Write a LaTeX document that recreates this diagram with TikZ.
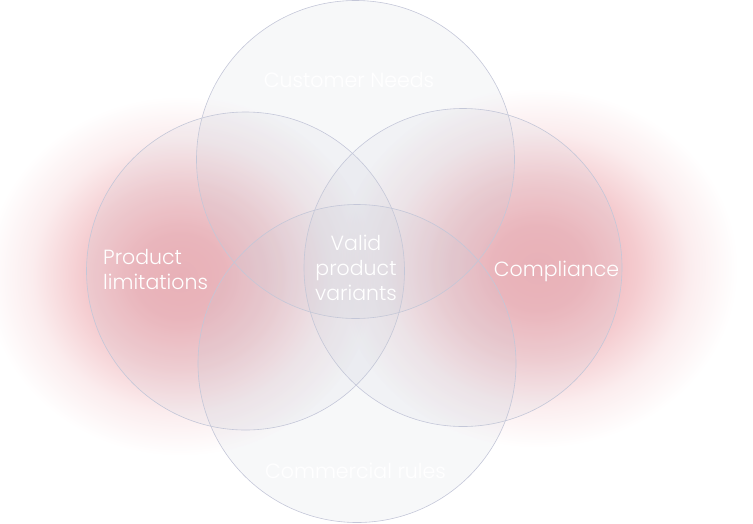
\documentclass[tikz,border=0pt]{standalone}
\usepackage{fontspec}
\newfontfamily\poppins{Poppins Light}
\usetikzlibrary{shapes.geometric}
\definecolor{glowred}{RGB}{238,172,178}
\definecolor{setfill}{RGB}{200,204,216}
\definecolor{setline}{RGB}{196,199,216}
\pgfdeclareradialshading{glow}{\pgfpoint{0bp}{0bp}}{color(0bp)=(glowred); color(6bp)=(glowred!92!white); color(12.5bp)=(glowred!62!white); color(19bp)=(glowred!22!white); color(25bp)=(white); color(50bp)=(white)}

\begin{document}
\begin{tikzpicture}[x=1pt, y=-1pt, every node/.style={inner sep=0pt, text=white, font=\poppins\fontsize{20.5}{25}\selectfont}, set/.style={draw=setline, line width=0.6pt, circle, fill=setfill, fill opacity=0.14, minimum size=318pt}]
\useasboundingbox (0,0) rectangle (753,523);
\shade[shading=glow, blend mode=multiply] (180,276) ellipse (195 and 180);
\shade[shading=glow, blend mode=multiply] (538,268) ellipse (200 and 180);
\node[set] (Cust) at (355.5,159.5) {};
\node[set] (Prod) at (245.5,271) {};
\node[set] (Comp) at (463,267.5) {};
\node[set] (Comm) at (357,363.5) {};
\node (CustL) at (349,80) {Customer Needs};
\node[anchor=west, align=left] (ProdL) at (103,269.5) {Product\\limitations};
\node[align=center] (Valid) at (356,268) {Valid\\product\\variants};
\node (CompL) at (556.5,271) {Compliance};
\node (CommL) at (355.5,471) {Commercial rules};
\end{tikzpicture}
\end{document}
